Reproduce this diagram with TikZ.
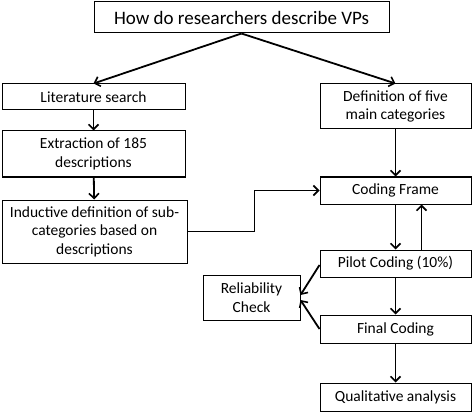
\documentclass[tikz,border=0pt]{standalone}
\usepackage{fontspec}
\setmainfont{Carlito}
\usepackage{tikz}
\usetikzlibrary{arrows.meta}
\usetikzlibrary{positioning}

\tikzset{
  stepbox/.style={draw, line width=1pt, align=center, inner sep=1pt, font=\fontsize{15.5}{18.5}\selectfont},
  flow/.style={line width=1.8pt, -{Straight Barb[length=5pt,width=10pt,line width=1.6pt]}},
}

\begin{document}
\begin{tikzpicture}[x=1pt,y=1pt]
\useasboundingbox (0,0) rectangle (472,-412);

\node[stepbox, minimum width=295, minimum height=31, font=\fontsize{19}{22}\selectfont] (question) at (241.5,-17.5) {How do researchers describe VPs};

% left branch
\node[stepbox, minimum width=183, minimum height=26] (litsearch) at (93.5,-97) {Literature search};
\node[stepbox, minimum width=183, minimum height=46] (extract) at (93.5,-154) {Extraction of 185\\descriptions};
\node[stepbox, minimum width=185, minimum height=63] (inductive) at (94.5,-231.5) {Inductive definition of sub-\\categories based on\\descriptions};

% right branch
\node[stepbox, minimum width=151, minimum height=45] (maincat) at (395.5,-106.5) {Definition of five\\main categories};
\node[stepbox, minimum width=151, minimum height=27] (frame) at (395.5,-190.5) {Coding Frame};
\node[stepbox, minimum width=151, minimum height=27] (pilot) at (395.5,-263.5) {Pilot Coding (10\%)};
\node[stepbox, minimum width=97, minimum height=45] (reliab) at (251.5,-297.5) {Reliability\\Check};
\node[stepbox, minimum width=151, minimum height=28] (final) at (395.5,-329) {Final Coding};
\node[stepbox, minimum width=151, minimum height=28] (qualit) at (395.5,-397) {Qualitative analysis};

\draw[flow] (question.south) -- (litsearch.north);
\draw[flow] (question.south) -- (maincat.north);
\draw[flow] (litsearch) -- (extract);
\draw[flow] (extract) -- (inductive);
\draw[flow] (inductive.east) -- ++(67,0) |- (frame.west);
\draw[flow] (maincat) -- (frame);
\draw[flow] (frame) -- (pilot);
\draw[flow] ([xshift=26pt]pilot.north) -- ([xshift=26pt]frame.south);
\draw[flow] ([yshift=-1.5pt]pilot.west) -- ([yshift=2.5pt]reliab.east);
\draw[flow] (final.west) -- ([yshift=-2.5pt]reliab.east);
\draw[flow] (pilot) -- (final);
\draw[flow] (final) -- (qualit);
\end{tikzpicture}
\end{document}
